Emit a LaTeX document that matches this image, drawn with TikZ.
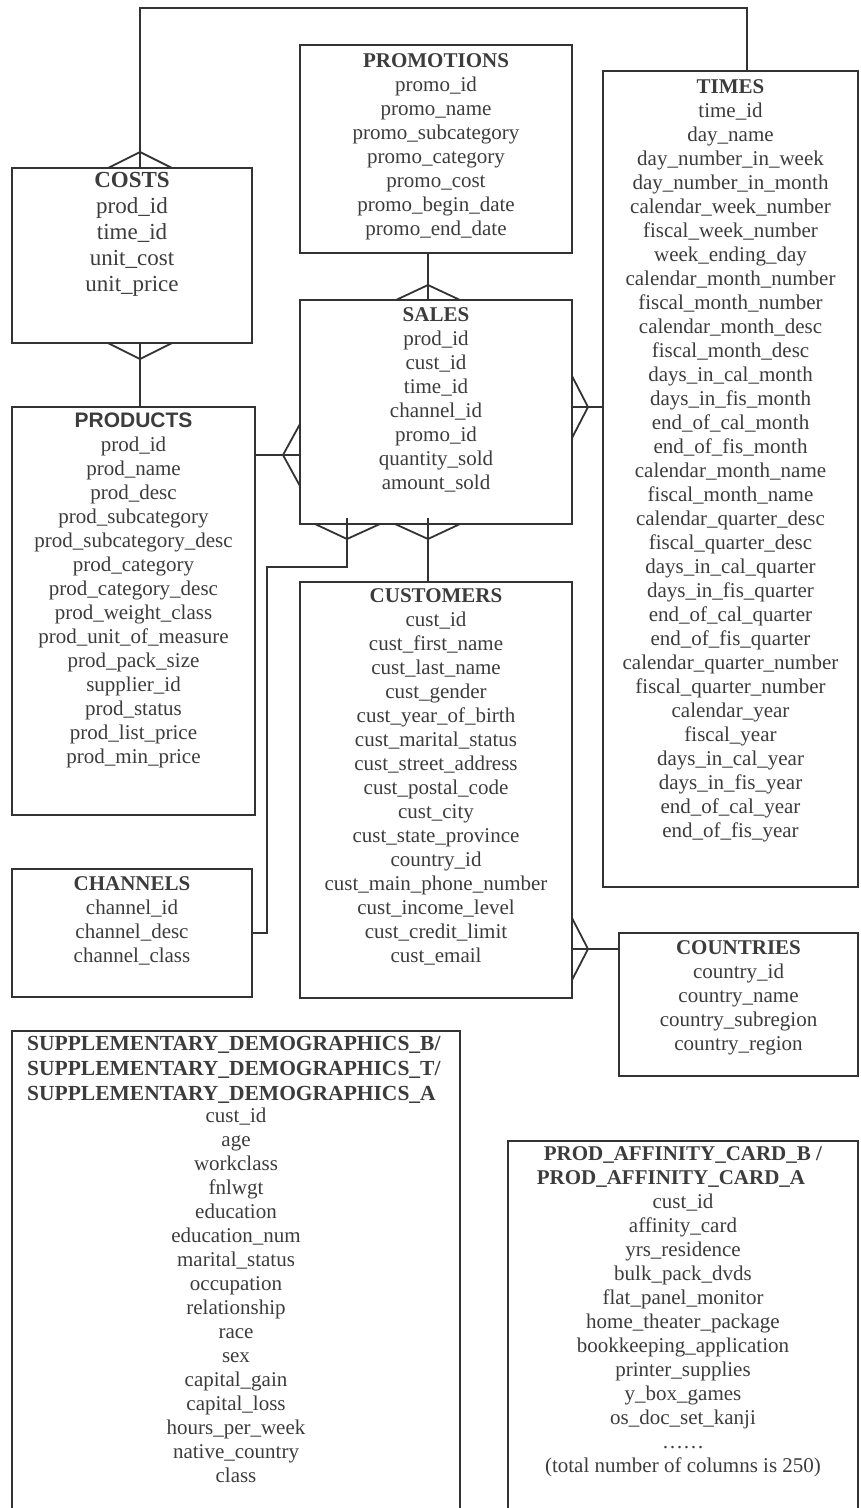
\documentclass[tikz,border=0pt]{standalone}
\usepackage{fontspec}
\setmainfont{Liberation Serif}
\newfontfamily\hdsans{Liberation Sans}
\definecolor{ln}{HTML}{333333}
\definecolor{tx}{HTML}{3C3C3C}
\newcommand\fl{\rule{0pt}{16pt}}
\begin{document}
\begin{tikzpicture}[x=1pt,y=-1pt,
  tbl/.style={draw=ln, line width=1.8pt, inner sep=0pt, outer sep=0pt, anchor=north west},
  lbl/.style={anchor=north, align=center, inner sep=0pt, text=tx, font=\fontsize{21}{24}\selectfont},
  conn/.style={draw=ln, line width=1.8pt},
]
\useasboundingbox (0,0) rectangle (860,1508);

% table boxes
\node[tbl, minimum width=240pt, minimum height=175pt] (costs) at (12,168) {};
\node[tbl, minimum width=272pt, minimum height=208pt] (promo) at (300,45) {};
\node[tbl, minimum width=255pt, minimum height=816pt] (times) at (603,71) {};
\node[tbl, minimum width=243pt, minimum height=408pt] (products) at (12,407) {};
\node[tbl, minimum width=272pt, minimum height=224pt] (sales) at (300,300) {};
\node[tbl, minimum width=272pt, minimum height=416pt] (customers) at (300,582) {};
\node[tbl, minimum width=240pt, minimum height=128pt] (channels) at (12,869) {};
\node[tbl, minimum width=239pt, minimum height=143pt] (countries) at (619,933) {};
\node[tbl, minimum width=448pt, minimum height=484pt] (supp) at (12,1031) {};
\node[tbl, minimum width=350pt, minimum height=374pt] (aff) at (508,1141) {};

% texts
\node[lbl, font=\fontsize{23}{26}\selectfont] (costsT) at (132,171)
  {\fl\textbf{COSTS}\\prod\_id\\time\_id\\unit\_cost\\unit\_price};
\node[lbl] (promoT) at (436,51)
  {\fl\textbf{PROMOTIONS}\\promo\_id\\promo\_name\\promo\_subcategory\\promo\_category\\promo\_cost\\promo\_begin\_date\\promo\_end\_date};
\node[lbl] (timesT) at (730.5,77)
  {\fl\textbf{TIMES}\\time\_id\\day\_name\\day\_number\_in\_week\\day\_number\_in\_month\\calendar\_week\_number\\fiscal\_week\_number\\week\_ending\_day\\calendar\_month\_number\\fiscal\_month\_number\\calendar\_month\_desc\\fiscal\_month\_desc\\days\_in\_cal\_month\\days\_in\_fis\_month\\end\_of\_cal\_month\\end\_of\_fis\_month\\calendar\_month\_name\\fiscal\_month\_name\\calendar\_quarter\_desc\\fiscal\_quarter\_desc\\days\_in\_cal\_quarter\\days\_in\_fis\_quarter\\end\_of\_cal\_quarter\\end\_of\_fis\_quarter\\calendar\_quarter\_number\\fiscal\_quarter\_number\\calendar\_year\\fiscal\_year\\days\_in\_cal\_year\\days\_in\_fis\_year\\end\_of\_cal\_year\\end\_of\_fis\_year};
\node[lbl] (productsT) at (133.5,411.5)
  {\fl{\hdsans\bfseries PRODUCTS}\\prod\_id\\prod\_name\\prod\_desc\\prod\_subcategory\\prod\_subcategory\_desc\\prod\_category\\prod\_category\_desc\\prod\_weight\_class\\prod\_unit\_of\_measure\\prod\_pack\_size\\supplier\_id\\prod\_status\\prod\_list\_price\\prod\_min\_price};
\node[lbl] (salesT) at (436,305)
  {\fl\textbf{SALES}\\prod\_id\\cust\_id\\time\_id\\channel\_id\\promo\_id\\quantity\_sold\\amount\_sold};
\node[lbl] (customersT) at (436,586)
  {\fl\textbf{CUSTOMERS}\\cust\_id\\cust\_first\_name\\cust\_last\_name\\cust\_gender\\cust\_year\_of\_birth\\cust\_marital\_status\\cust\_street\_address\\cust\_postal\_code\\cust\_city\\cust\_state\_province\\country\_id\\cust\_main\_phone\_number\\cust\_income\_level\\cust\_credit\_limit\\cust\_email};
\node[lbl] (channelsT) at (132,874)
  {\fl\textbf{CHANNELS}\\channel\_id\\channel\_desc\\channel\_class};
\node[lbl] (countriesT) at (738.5,938)
  {\fl\textbf{COUNTRIES}\\country\_id\\country\_name\\country\_subregion\\country\_region};
\node[lbl, anchor=north west, align=left, font=\fontsize{21.5}{25}\selectfont\bfseries] (suppH) at (27,1034)
  {\fl SUPPLEMENTARY\_DEMOGRAPHICS\_B/\\SUPPLEMENTARY\_DEMOGRAPHICS\_T/\\SUPPLEMENTARY\_DEMOGRAPHICS\_A};
\node[lbl] (suppF) at (236,1106)
  {\fl cust\_id\\age\\workclass\\fnlwgt\\education\\education\_num\\marital\_status\\occupation\\relationship\\race\\sex\\capital\_gain\\capital\_loss\\hours\_per\_week\\native\_country\\class};
\node[lbl] (affT) at (683,1144)
  {\fl\textbf{PROD\_AFFINITY\_CARD\_B /}\\\textbf{PROD\_AFFINITY\_CARD\_A}\rule{24pt}{0pt}\\cust\_id\\affinity\_card\\yrs\_residence\\bulk\_pack\_dvds\\flat\_panel\_monitor\\home\_theater\_package\\bookkeeping\_application\\printer\_supplies\\y\_box\_games\\os\_doc\_set\_kanji\\……\\(total number of columns is 250)};

% connection points
\coordinate (ct) at ([xshift=128pt]costs.north west);
\coordinate (tt) at ([xshift=144pt]times.north west);
\coordinate (cb) at ([xshift=128pt]costs.south west);
\coordinate (ps) at ([xshift=128pt]sales.north west);
\coordinate (sl) at ([yshift=-155pt]sales.north west);
\coordinate (sr) at ([yshift=-107pt]sales.north east);
\coordinate (sb1) at ([xshift=47pt]sales.south west);
\coordinate (sb2) at ([xshift=128pt]sales.south west);
\coordinate (j1) at (267,567);
\coordinate (chR) at ([yshift=-64pt]channels.north east);
\coordinate (cr) at ([yshift=-367pt]customers.north east);

% COSTS - TIMES
\draw[conn] (ct) -- ++(0,-160) -| (tt);
\draw[conn] ([xshift=-32pt]ct) -- ++(32,-16) -- ++(32,16);
% COSTS - PRODUCTS
\draw[conn] (cb) -- (cb |- products.north);
\draw[conn] ([xshift=-32pt]cb) -- ++(32,16) -- ++(32,-16);
% PROMOTIONS - SALES
\draw[conn] (ps |- promo.south) -- (ps);
\draw[conn] ([xshift=-32pt]ps) -- ++(32,-15) -- ++(32,15);
% PRODUCTS - SALES
\draw[conn] (sl -| products.east) -- (sl);
\draw[conn] ([yshift=31pt]sl) -- ++(-17,31) -- ++(17,31);
% SALES - TIMES
\draw[conn] (sr) -- (sr -| times.west);
\draw[conn] ([yshift=31pt]sr) -- ++(16,31) -- ++(-16,31);
% SALES - CHANNELS
\draw[conn] ([yshift=6pt]sb1) |- (j1) |- (chR);
\draw[conn] ([xshift=-32pt]sb1) -- ++(32,15) -- ++(33,-15);
% SALES - CUSTOMERS
\draw[conn] ([yshift=6pt]sb2) -- (sb2 |- customers.north);
\draw[conn] ([xshift=-33pt]sb2) -- ++(33,15) -- ++(32,-15);
% CUSTOMERS - COUNTRIES
\draw[conn] (cr) -- (cr -| countries.west);
\draw[conn] ([yshift=31pt]cr) -- ++(16,31) -- ++(-16,31);
\end{tikzpicture}
\end{document}
